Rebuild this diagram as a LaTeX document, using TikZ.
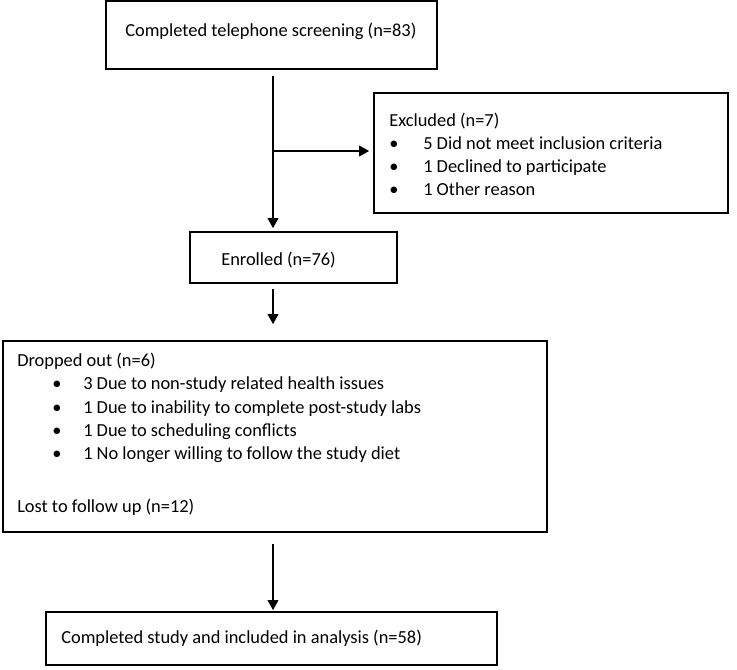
\documentclass[tikz,border=0pt]{standalone}
\usepackage{fontspec}
\setmainfont{Carlito}
\usetikzlibrary{arrows.meta}
\newcommand{\bulletgap}[1]{\makebox[#1][l]{•}}

\begin{document}
\begin{tikzpicture}[x=0.75pt,y=0.75pt,yscale=-1,xscale=1,
    flowbox/.style={draw, line width=1.3pt, inner sep=0pt},
    lbl/.style={anchor=base west, inner sep=0pt, font=\fontsize{13.8pt}{17pt}\selectfont},
    flowarrow/.style={line width=1.1pt, -{Triangle[length=7.5pt,width=8pt]}}]
        \useasboundingbox (0,0) rectangle (737,669);
        %Shape: Rectangle [id:screen]
        \node[flowbox, minimum width=248.25pt, minimum height=51pt] (screen) at (271.5,35) {};
        %Shape: Rectangle [id:excl]
        \node[flowbox, minimum width=265.5pt, minimum height=90pt] (excl) at (551,153) {};
        %Shape: Rectangle [id:enrol]
        \node[flowbox, minimum width=155.25pt, minimum height=38.25pt] (enrol) at (293.5,257.5) {};
        %Shape: Rectangle [id:drop]
        \node[flowbox, minimum width=408pt, minimum height=143.25pt] (drop) at (275,436.5) {};
        %Shape: Rectangle [id:final]
        \node[flowbox, minimum width=338.25pt, minimum height=39.75pt] (final) at (271.5,638.5) {};

        \coordinate (spine) at (273,0);
        \coordinate (split) at (273,151);
        %Straight Lines [id:screen-enrol]
        \draw[flowarrow, shorten <=4.5pt, shorten >=2.25pt] (screen.south -| spine) -- (enrol.north -| spine);
        %Straight Lines [id:split-excl]
        \draw[flowarrow, shorten >=3pt] (split) -- (split -| excl.west);
        %Straight Lines [id:enrol-drop]
        \draw[flowarrow, shorten <=3.75pt, shorten >=12pt] (enrol.south -| spine) -- (drop.north -| spine);
        %Straight Lines [id:drop-final]
        \draw[flowarrow, shorten <=8.25pt, shorten >=0.75pt] (drop.south -| spine) -- (final.north -| spine);

        % Text Node
        \node[lbl] (screen-t) at (125,36) {Completed telephone screening (n=83)};
        % Text Node
        \node[lbl] (excl-t) at (389,126) {Excluded (n=7)};
        \node[lbl] (excl-a) at (389,149) {\bulletgap{25.5pt}5 Did not meet inclusion criteria};
        \node[lbl] (excl-b) at (389,172) {\bulletgap{25.5pt}1 Declined to participate};
        \node[lbl] (excl-c) at (389,195) {\bulletgap{25.5pt}1 Other reason};
        % Text Node
        \node[lbl] (enrol-t) at (221,265) {Enrolled (n=76)};
        % Text Node
        \node[lbl] (drop-t) at (17,366) {Dropped out (n=6)};
        \node[lbl] (drop-a) at (52,389) {\bulletgap{23.25pt}3 Due to non-study related health issues};
        \node[lbl] (drop-b) at (52,413) {\bulletgap{23.25pt}1 Due to inability to complete post-study labs};
        \node[lbl] (drop-c) at (52,436) {\bulletgap{23.25pt}1 Due to scheduling conflicts};
        \node[lbl] (drop-d) at (52,459) {\bulletgap{23.25pt}1 No longer willing to follow the study diet};
        \node[lbl] (lost-t) at (17,512) {Lost to follow up (n=12)};
        % Text Node
        \node[lbl] (final-t) at (61,643) {Completed study and included in analysis (n=58)};
\end{tikzpicture}
\end{document}
